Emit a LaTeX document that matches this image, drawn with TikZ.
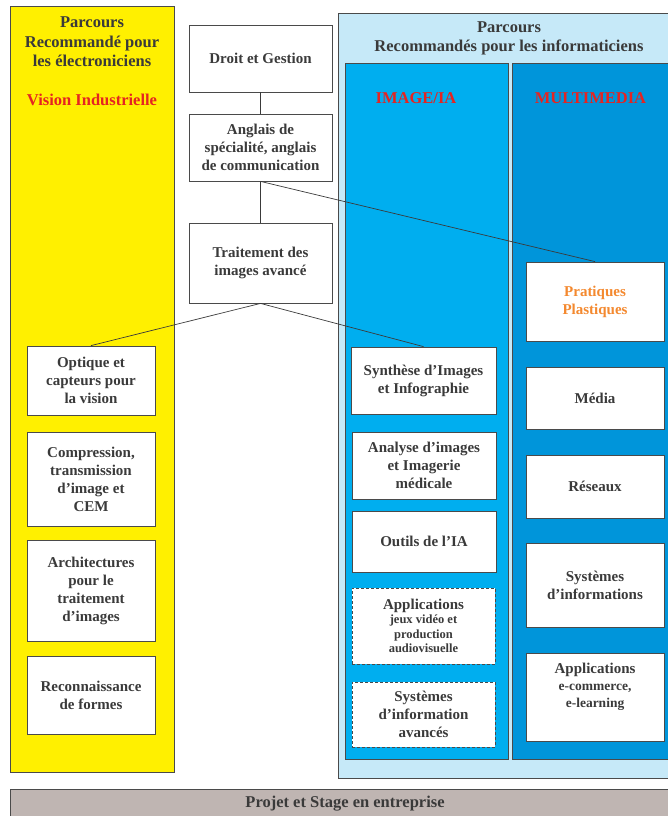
\documentclass[tikz,border=0pt]{standalone}
\usepackage{fontspec}
\setmainfont{Liberation Serif}
\definecolor{ink}{HTML}{3A3A3A}
\definecolor{edge}{HTML}{4A4A4A}
\definecolor{yel}{HTML}{FFF000}
\definecolor{lblue}{HTML}{C6E9F8}
\definecolor{cyanp}{HTML}{00AEEF}
\definecolor{bluep}{HTML}{0095DA}
\definecolor{grayb}{HTML}{BFB5B2}
\definecolor{redt}{HTML}{E52421}
\definecolor{oranget}{HTML}{F4892F}
\tikzset{
  panel/.style={draw=edge, line width=0.9pt},
  box/.style={draw=edge, fill=white, line width=0.8pt, align=center, text=ink,
    font=\fontsize{15}{18}\selectfont\bfseries, inner sep=2pt},
  dbox/.style={box, dashed, dash pattern=on 3pt off 2pt},
  head/.style={align=center, text=ink, font=\fontsize{16.5}{19.5}\selectfont\bfseries},
  redhead/.style={head, text=redt},
  link/.style={draw=ink, line width=0.7pt}
}
\begin{document}
\begin{tikzpicture}[x=1pt,y=-1pt]
\useasboundingbox (0,0) rectangle (668,816);
\begin{scope}
\clip (0,0) rectangle (668,816);
% panels
\draw[panel, fill=yel] (10,6) rectangle (174,772);
\draw[panel, fill=lblue] (338,13) rectangle (690,778);
\draw[panel, fill=cyanp] (345,63) rectangle (508,759);
\draw[panel, fill=bluep] (512,63) rectangle (690,759);
\draw[panel, fill=grayb] (10,789) rectangle (690,830);
\end{scope}
% headers
\node[head] (hyel) at (92,42) {Parcours\\Recommandé pour\\les électroniciens};
\node[redhead] (vi) at (92,100) {Vision Industrielle};
\node[head] (hblue) at (509,38.5) {Parcours\\Recommandés pour les informaticiens};
\node[redhead] (himg) at (416,98) {IMAGE/IA};
\node[redhead] (hmm) at (590.5,98) {MULTIMEDIA};
\node[head] (projet) at (345,803.5) {Projet et Stage en entreprise};
% central boxes
\node[box, minimum width=143pt, minimum height=67pt] (droit) at (260.5,58.5) {Droit et Gestion};
\node[box, minimum width=143pt, minimum height=67pt] (anglais) at (260.5,147.5) {Anglais de\\spécialité, anglais\\de communication};
\node[box, minimum width=143pt, minimum height=80pt] (trait) at (260.5,263) {Traitement des\\images avancé};
% left column
\node[box, minimum width=128pt, minimum height=69pt] (optique) at (91,380.5) {Optique et\\capteurs pour\\la vision};
\node[box, minimum width=128pt, minimum height=94pt] (compr) at (91,479) {Compression,\\transmission\\d'image et\\CEM};
\node[box, minimum width=128pt, minimum height=101pt] (archi) at (91,590.5) {Architectures\\pour le\\traitement\\d’images};
\node[box, minimum width=128pt, minimum height=78pt] (reco) at (91,695) {Reconnaissance\\de formes};
% image/IA column
\node[box, minimum width=145pt, minimum height=67pt] (synth) at (423.5,380.5) {Synthèse d’Images\\et Infographie};
\node[box, minimum width=144pt, minimum height=67pt] (analyse) at (424,465.5) {Analyse d’images\\et Imagerie\\médicale};
\node[box, minimum width=144pt, minimum height=61pt] (outils) at (424,541.5) {Outils de l’IA};
\node[dbox, minimum width=143pt, minimum height=76pt, font=\fontsize{12.5}{14.5}\selectfont\bfseries] (appjeux) at (423.5,626) {{\fontsize{15}{18}\selectfont Applications}\\jeux vidéo et\\production\\audiovisuelle};
\node[dbox, minimum width=143pt, minimum height=65pt] (sysav) at (423.5,714.5) {Systèmes\\d’information\\avancés};
% multimedia column
\node[box, text=oranget, minimum width=138pt, minimum height=79pt] (prat) at (595,301.5) {Pratiques\\Plastiques};
\node[box, minimum width=138pt, minimum height=62pt] (media) at (595,398) {Média};
\node[box, minimum width=138pt, minimum height=63pt] (reseaux) at (595,486.5) {Réseaux};
\node[box, minimum width=138pt, minimum height=84pt] (sysinfo) at (595,585) {Systèmes\\d’informations};
\node[box, minimum width=138pt, minimum height=88pt, text depth=24pt, font=\fontsize{13.5}{17}\selectfont\bfseries] (appcom) at (595,697) {{\fontsize{15}{18}\selectfont Applications}\\e-commerce,\\e-learning};
% connectors
\draw[link] (droit.south) -- (anglais.north);
\draw[link] (anglais.south) -- (trait.north);
\draw[link] (anglais.south) -- (prat.north);
\draw[link] (trait.south) -- (optique.north);
\draw[link] (trait.south) -- (synth.north);
\end{tikzpicture}
\end{document}
